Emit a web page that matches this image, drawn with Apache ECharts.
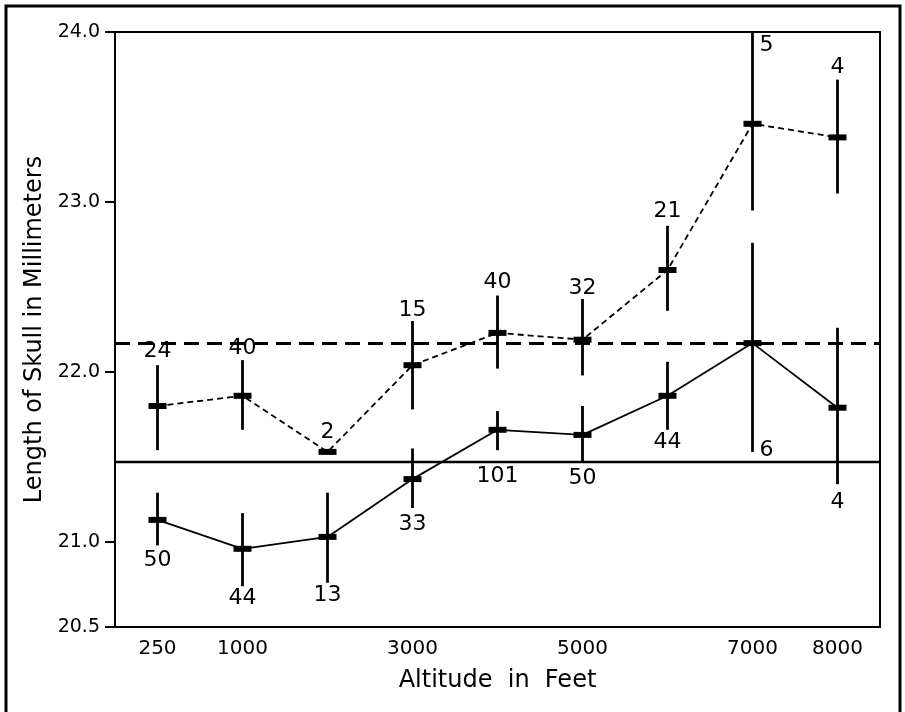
<!DOCTYPE html>
<html>
<head>
<meta charset="utf-8">
<script src="https://cdn.jsdelivr.net/npm/echarts@6/dist/echarts.min.js"></script>
<style>
html,body{margin:0;padding:0;background:#fff;}
#chart{width:905px;height:712px;}
</style>
</head>
<body>
<div id="chart"></div>
<script>
// ---- data ----
const categories = ['250', '1000', '2000', '3000', '4000', '5000', '6000', '7000', '8000'];
const tickLabels = ['250', '1000', '', '3000', '', '5000', '', '7000', '8000'];
const yTickValues = [20.5, 21.0, 22.0, 23.0, 24.0];

// upper (dashed) group
const highMean = [21.80, 21.86, 21.53, 22.04, 22.23, 22.19, 22.60, 23.46, 23.38];
const highLow  = [21.54, 21.66, null, 21.78, 22.02, 21.98, 22.36, 22.95, 23.05];
const highHigh = [22.04, 22.07, null, 22.30, 22.45, 22.43, 22.86, 24.00, 23.72];
const highN    = [24, 40, 2, 15, 40, 32, 21, 5, 4];

// lower (solid) group
const lowMean = [21.13, 20.96, 21.03, 21.37, 21.66, 21.63, 21.86, 22.17, 21.79];
const lowLow  = [20.98, 20.74, 20.76, 21.20, 21.54, 21.47, 21.66, 21.53, 21.34];
const lowHigh = [21.29, 21.17, 21.29, 21.55, 21.77, 21.80, 22.06, 22.76, 22.26];
const lowN    = [50, 44, 13, 33, 101, 50, 44, 6, 4];

// overall reference levels
const refDashedLevel = 22.17;
const refSolidLevel = 21.47;

// ---- styling ----
const FONT = 'DejaVu Sans';
const highLabelGap = [14, 12, 20, 11, 13, 11, 15, 13, 12];
const lowLabelGap  = [15, 12, 12, 16, 26, 16, 12, 0, 18];
const sideLabelIndex = 7;

function buildRows(mean, low, high, n) {
  return categories.map((c, i) => [i, mean[i], low[i], high[i], n[i]]);
}

function makeRender(upper, gaps) {
  return function (params, api) {
    const i = api.value(0);
    const mean = api.value(1);
    const lo = api.value(2);
    const hi = api.value(3);
    const n = api.value(4);
    const pm = api.coord([i, mean]);
    const children = [];
    const hasBar = !isNaN(lo) && !isNaN(hi) && lo !== null;
    let pLo = null, pHi = null;
    if (hasBar) {
      pLo = api.coord([i, lo]);
      pHi = api.coord([i, hi]);
      children.push({
        type: 'line',
        shape: { x1: pm[0], y1: pHi[1], x2: pm[0], y2: pLo[1] },
        style: { stroke: '#000', lineWidth: 2.8 }
      });
    }
    children.push({
      type: 'rect',
      shape: { x: pm[0] - 9, y: pm[1] - 3, width: 18, height: 6 },
      style: { fill: '#000' }
    });
    let tx, ty, align = 'center';
    if (i === sideLabelIndex) {
      tx = pm[0] + 7;
      align = 'left';
      ty = upper ? pHi[1] + gaps[i] : pLo[1] - 2;
    } else if (upper) {
      tx = pm[0];
      ty = hasBar ? pHi[1] - gaps[i] : pm[1] - gaps[i];
    } else {
      tx = pm[0];
      ty = pLo[1] + gaps[i];
    }
    children.push({
      type: 'text',
      style: {
        x: tx, y: ty, text: String(n), fill: '#000',
        font: '22px "' + FONT + '"', align: align, verticalAlign: 'middle'
      }
    });
    return { type: 'group', children: children };
  };
}

const chart = echarts.init(document.getElementById('chart'), null, { renderer: 'canvas' });

chart.setOption({
  animation: false,
  backgroundColor: '#fff',
  textStyle: { fontFamily: FONT, color: '#000' },
  graphic: [{
    type: 'rect',
    shape: { x: 6, y: 6, width: 894, height: 720 },
    style: { fill: 'none', stroke: '#000', lineWidth: 3 },
    silent: true
  }],
  grid: {
    left: 115, right: 25, top: 32, bottom: 85,
    show: true, borderColor: '#000', borderWidth: 2, backgroundColor: 'transparent'
  },
  xAxis: {
    type: 'category',
    data: categories,
    boundaryGap: true,
    name: 'Altitude  in  Feet',
    nameLocation: 'middle',
    nameGap: 42,
    nameTextStyle: { fontFamily: FONT, fontSize: 24, color: '#000' },
    axisLine: { lineStyle: { color: '#000', width: 2 } },
    axisTick: { alignWithLabel: true, interval: 0, length: 8, lineStyle: { color: '#000', width: 2 } },
    axisLabel: {
      interval: 0, margin: 12, fontFamily: FONT, fontSize: 20, color: '#000',
      formatter: (v, idx) => tickLabels[idx]
    },
    splitLine: { show: false }
  },
  yAxis: {
    type: 'value',
    min: 20.5, max: 24, interval: 0.5,
    name: 'Length of Skull in Millimeters',
    nameLocation: 'middle',
    nameRotate: 90,
    nameGap: 66,
    nameTextStyle: { fontFamily: FONT, fontSize: 24, color: '#000' },
    axisLine: { show: true, lineStyle: { color: '#000', width: 2 } },
    axisTick: { show: true, length: 10, customValues: yTickValues, lineStyle: { color: '#000', width: 2 } },
    axisLabel: {
      margin: 15, fontFamily: FONT, fontSize: 19, color: '#000',
      customValues: yTickValues,
      formatter: v => Number(v).toFixed(1)
    },
    splitLine: { show: false }
  },
  series: [
    {
      name: 'upper line',
      type: 'line',
      data: highMean,
      symbol: 'none',
      z: 2,
      lineStyle: { color: '#000', width: 1.8, type: [6, 4] },
      markLine: {
        silent: true, symbol: 'none', label: { show: false },
        lineStyle: { color: '#000', width: 3, type: [15, 8] },
        data: [{ yAxis: refDashedLevel }]
      }
    },
    {
      name: 'lower line',
      type: 'line',
      data: lowMean,
      symbol: 'none',
      z: 2,
      lineStyle: { color: '#000', width: 1.8, type: 'solid' },
      markLine: {
        silent: true, symbol: 'none', label: { show: false },
        lineStyle: { color: '#000', width: 2.4, type: 'solid' },
        data: [{ yAxis: refSolidLevel }]
      }
    },
    {
      name: 'upper bars',
      type: 'custom',
      z: 5,
      renderItem: makeRender(true, highLabelGap),
      data: buildRows(highMean, highLow, highHigh, highN)
    },
    {
      name: 'lower bars',
      type: 'custom',
      z: 5,
      renderItem: makeRender(false, lowLabelGap),
      data: buildRows(lowMean, lowLow, lowHigh, lowN)
    }
  ]
});
</script>
</body>
</html>
